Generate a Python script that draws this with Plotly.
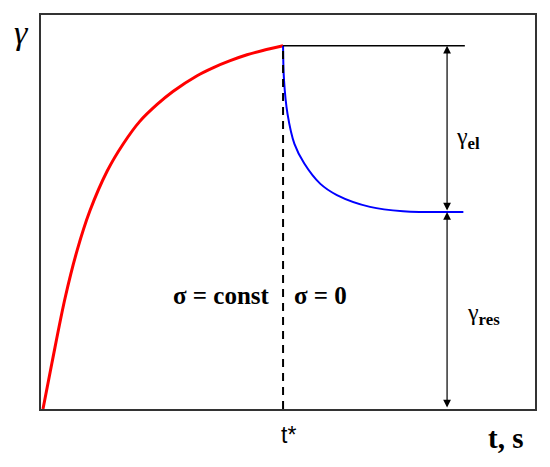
import plotly.graph_objects as go

# Loading stage (sigma = const): creep curve
t_load = [0.4, 2.2, 4.9, 7.3, 9.9, 13.4, 16.6, 20.0, 23.5, 26.7, 31.6, 34.8, 38.3, 41.7, 44.9, 49.0]
g_load = [0.0, 11.6, 28.3, 40.2, 50.3, 60.4, 67.2, 73.0, 77.3, 80.6, 84.6, 86.6, 88.4, 89.9, 91.0, 92.2]

# Unloading stage (sigma = 0): recovery curve
t_unload = [49.0, 49.2, 49.9, 51.3, 53.3, 56.5, 59.9, 66.6, 73.3, 85.5]
g_unload = [92.2, 83.3, 74.9, 67.3, 62.3, 57.2, 54.3, 51.3, 50.2, 50.0]

t_star = 49.0
gamma_max = 92.2
gamma_res = 50.0
t_ref_end = 85.8
t_arrow = 82.2

fig = go.Figure()

fig.add_trace(go.Scatter(x=t_load, y=g_load, mode="lines",
                         line=dict(color="#ff0000", width=3, shape="spline", smoothing=1.0),
                         showlegend=False, hoverinfo="skip"))
fig.add_trace(go.Scatter(x=t_unload, y=g_unload, mode="lines",
                         line=dict(color="#0000ff", width=2, shape="spline", smoothing=1.0),
                         showlegend=False, hoverinfo="skip"))
fig.add_trace(go.Scatter(x=[t_star, t_ref_end], y=[gamma_max, gamma_max], mode="lines",
                         line=dict(color="black", width=1.5),
                         showlegend=False, hoverinfo="skip"))
fig.add_trace(go.Scatter(x=[t_star, t_star], y=[0, gamma_max], mode="lines",
                         line=dict(color="black", width=2, dash="8px,6px"),
                         showlegend=False, hoverinfo="skip"))

arrow_common = dict(xref="x", yref="y", axref="x", ayref="y", text="",
                    showarrow=True, arrowhead=2, arrowside="end+start",
                    arrowsize=1.3, arrowwidth=1.2, arrowcolor="black",
                    startarrowhead=2, startarrowsize=1.3, standoff=0, startstandoff=0)
fig.add_annotation(x=t_arrow, y=gamma_max, ax=t_arrow, ay=gamma_res, **arrow_common)
fig.add_annotation(x=t_arrow, y=gamma_res, ax=t_arrow, ay=0, **arrow_common)

serif = "Liberation Serif"
center = dict(showarrow=False, xanchor="center", yanchor="middle")
fig.add_annotation(xref="paper", yref="paper", x=-0.039, y=0.955, text="<i>γ</i>",
                   font=dict(family=serif, size=34, color="black"), **center)
fig.add_annotation(x=86.4, y=68.7, text="γ<sub><b>el</b></sub>",
                   font=dict(family=serif, size=24, color="black"), **center)
fig.add_annotation(x=89.5, y=24.2, text="γ<sub><b>res</b></sub>",
                   font=dict(family=serif, size=24, color="black"), **center)
fig.add_annotation(x=36.6, y=28.8, text="<b>σ = const</b>",
                   font=dict(family=serif, size=25, color="black"), **center)
fig.add_annotation(x=56.5, y=28.8, text="<b>σ = 0</b>",
                   font=dict(family=serif, size=25, color="black"), **center)
fig.add_annotation(xref="paper", yref="paper", x=0.502, y=-0.066, text="t*",
                   font=dict(family="Liberation Sans", size=23, color="black"), **center)
fig.add_annotation(xref="paper", yref="paper", x=0.941, y=-0.073, text="<b>t, s</b>",
                   font=dict(family=serif, size=29, color="black"), **center)

axis_common = dict(showline=True, linecolor="#333333", linewidth=2, mirror=True,
                   showgrid=False, zeroline=False, showticklabels=False, ticks="")
fig.update_xaxes(range=[0, 100], **axis_common)
fig.update_yaxes(range=[0, 100], **axis_common)

fig.update_layout(width=534, height=451, margin=dict(l=33, r=7, t=5, b=50),
                  plot_bgcolor="white", paper_bgcolor="white")

fig.write_html("out.html")
